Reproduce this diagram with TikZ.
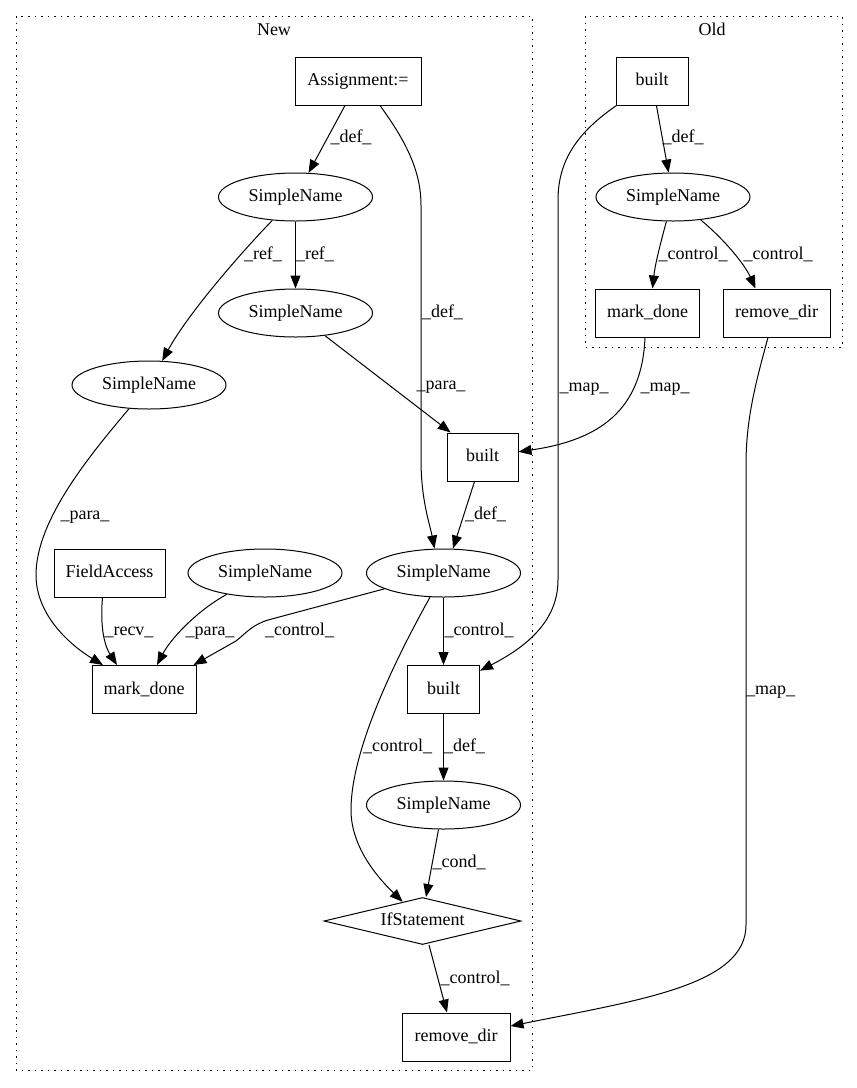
\documentclass[tikz,border=0pt]{standalone}
\usepackage{fontspec}
\setmainfont{Liberation Serif}
\usetikzlibrary{arrows.meta,shapes.geometric}
\begin{document}
\begin{tikzpicture}[x=1pt,y=-1pt,
  every node/.style={font=\fontsize{18}{21}\selectfont, text height=12.5pt, text depth=3.5pt},
  box/.style={draw, line width=1pt, rectangle, minimum height=48pt, inner sep=0pt},
  ell/.style={draw, line width=1pt, ellipse, minimum width=154pt, minimum height=48pt, inner sep=0pt},
  dia/.style={draw, line width=1pt, diamond, minimum width=197pt, minimum height=47pt, inner sep=0pt, aspect=4.2},
  edge/.style={draw, line width=1pt, -{Triangle[length=13pt,width=10pt]}},
  lbl/.style={inner sep=0pt},
  cluster/.style={draw, line width=1pt, dash pattern=on 1.5pt off 5pt}
]
\useasboundingbox (0,0) rectangle (857,1088);

% clusters
\draw[cluster] (16,16) rectangle (532,1070);
\draw[cluster] (585,16) rectangle (842,347);
\node[lbl] (newlbl) at (274,31) {New};
\node[lbl] (oldlbl) at (712,31) {Old};

% New nodes
\node[box, minimum width=126pt] (asg) at (358,81) {Assignment:=};
\node[ell] (sn1) at (295.5,197) {SimpleName};
\node[ell] (sn2) at (295.5,313) {SimpleName};
\node[ell] (sn3) at (149,385) {SimpleName};
\node[box, minimum width=71pt] (bmid) at (482.5,457) {built};
\node[box, minimum width=111pt] (fa) at (109.5,573) {FieldAccess};
\node[ell] (sn4) at (265,573) {SimpleName};
\node[ell] (sn5) at (443.5,573) {SimpleName};
\node[box, minimum width=104pt] (mdn) at (144,689.5) {mark\_done};
\node[box, minimum width=72pt] (blow) at (443.5,689.5) {built};
\node[ell] (sn6) at (443.5,805) {SimpleName};
\node[dia] (ifs) at (422.5,921) {IfStatement};
\node[box, minimum width=108pt] (rdn) at (456,1037) {remove\_dir};

% Old nodes
\node[box, minimum width=72pt] (obuilt) at (652,81) {built};
\node[ell] (osn) at (673,197) {SimpleName};
\node[box, minimum width=104pt] (omd) at (647.5,313) {mark\_done};
\node[box, minimum width=107pt] (ord) at (776.5,313) {remove\_dir};

% New edges
\draw[edge] ([xshift=-13pt]asg.south) -- (sn1) node[lbl, at={(351,138)}] {\_def\_};
\draw[edge] ([xshift=22pt]asg.south) .. controls (405,140) and (421,170) .. (421,205) -- (421,460) .. controls (421,500) and (430,525) .. ([xshift=-9pt]sn5.north) node[lbl, at={(442.5,313)}] {\_def\_};
\draw[edge] (sn1) -- (sn2) node[lbl, at={(315,255)}] {\_ref\_};
\draw[edge] (sn1) .. controls (250,243) and (190,310) .. (sn3) node[lbl, at={(263,255)}] {\_ref\_};
\draw[edge] (sn2) -- (bmid) node[lbl, at={(441,385)}] {\_para\_};
\draw[edge] (sn3) .. controls (90,455) and (36,520) .. (36,575) .. controls (36,615) and (70,645) .. ([xshift=-41pt]mdn.north) node[lbl, at={(85,515)}] {\_para\_};
\draw[edge] ([xshift=-7pt]fa.south) .. controls (100,625) and (104,645) .. ([xshift=-27pt]mdn.north) node[lbl, at={(129,631)}] {\_recv\_};
\draw[edge] (sn4) .. controls (195,612) and (170,640) .. ([xshift=13pt]mdn.north) node[lbl, at={(210,631)}] {\_para\_};
\draw[edge] (sn5) -- (268,620) .. controls (252,625) and (246,633) .. (236,641) -- ([xshift=-3pt]mdn.north east) node[lbl, at={(299.5,631)}] {\_control\_};
\draw[edge] (sn5) -- (blow) node[lbl, at={(479,631)}] {\_control\_};
\draw[edge] (sn5) .. controls (395,660) and (351,750) .. (351,810) .. controls (351,845) and (375,875) .. (ifs) node[lbl, at={(397.5,747)}] {\_control\_};
\draw[edge] ([xshift=-8pt]bmid.south) -- ([xshift=9.5pt]sn5.north) node[lbl, at={(485.5,515)}] {\_def\_};
\draw[edge] (blow) -- (sn6) node[lbl, at={(464.5,747)}] {\_def\_};
\draw[edge] ([xshift=-5pt]sn6.south) -- ([xshift=3.5pt]ifs.north) node[lbl, at={(459,863)}] {\_cond\_};
\draw[edge] ([xshift=6.5pt]ifs.south) -- ([xshift=-9pt]rdn.north) node[lbl, at={(475,979)}] {\_control\_};

% Old edges
\draw[edge] (obuilt) -- (osn) node[lbl, at={(683,138)}] {\_def\_};
\draw[edge] (osn) .. controls (660,245) and (655,265) .. ([xshift=5pt]omd.north) node[lbl, at={(693,255)}] {\_control\_};
\draw[edge] (osn) .. controls (725,240) and (745,265) .. ([xshift=-21pt]ord.north) node[lbl, at={(778,255)}] {\_control\_};

% map edges
\draw[edge] ([xshift=1pt]obuilt.south west) .. controls (578,132) and (558,160) .. (558,200) -- (558,580) .. controls (558,625) and (520,650) .. (blow) node[lbl, at={(584,387)}] {\_map\_};
\draw[edge] ([xshift=-2.5pt]omd.south) .. controls (642,410) and (600,440) .. (bmid) node[lbl, at={(665,387)}] {\_map\_};
\draw[edge] ([xshift=-8.5pt]ord.south) .. controls (755,385) and (746,420) .. (746,465) -- (746,925) .. controls (746,985) and (640,1000) .. (rdn) node[lbl, at={(770.5,690)}] {\_map\_};
\end{tikzpicture}
\end{document}
